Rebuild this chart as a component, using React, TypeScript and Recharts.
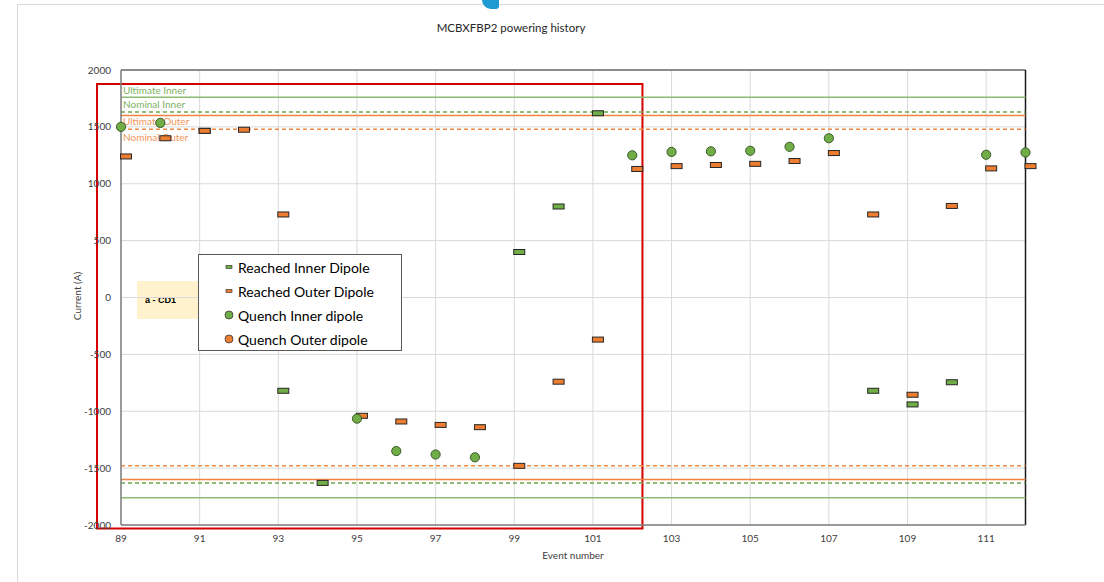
import {
  CartesianGrid,
  ComposedChart,
  Legend,
  ReferenceArea,
  ReferenceLine,
  Scatter,
  XAxis,
  YAxis,
} from 'recharts';

const FONT = 'Lato, "Liberation Sans", sans-serif';

const EVENT_TICKS = [89, 91, 93, 95, 97, 99, 101, 103, 105, 107, 109, 111];
const CURRENT_TICKS = [-2000, -1500, -1000, -500, 0, 500, 1000, 1500, 2000];

// quench currents (A)
const quenchInnerEvents = [89, 90, 95, 96, 97, 98, 102, 103, 104, 105, 106, 107, 111, 112];
const quenchInnerCurrent = [1500, 1535, -1065, -1350, -1380, -1405, 1250, 1280, 1285, 1290, 1325, 1400, 1255, 1275];
const quenchOuterEvents: number[] = [];
const quenchOuterCurrent: number[] = [];

// reached currents (A)
const reachedInnerEvents = [91, 93, 94, 99, 100, 101, 108, 109, 110];
const reachedInnerCurrent = [1465, -820, -1630, 400, 800, 1620, -820, -940, -745];
const reachedOuterEvents = [89, 90, 91, 92, 93, 95, 96, 97, 98, 99, 100, 101, 102, 103, 104, 105, 106, 107, 108, 109, 110, 111, 112];
const reachedOuterCurrent = [1240, 1400, 1465, 1475, 730, -1040, -1090, -1120, -1140, -1480, -740, -370, 1130, 1155, 1165, 1175, 1200, 1270, 730, -855, 805, 1135, 1155];

// current limits, drawn at +/- value
const limitNames = ['Ultimate Inner', 'Nominal Inner', 'Ultimate Outer', 'Nominal Outer'];
const limitCurrent = [1760, 1630, 1600, 1480];

// box around the CD1 campaign (event range, current range)
const cd1Events = [88.39, 102.26];
const cd1Current = [1877, -2031];

const GREEN = '#70AD47';
const ORANGE = '#ED7D31';
const AXIS_TEXT = '#404040';

const LIMIT_STYLE = [
  { stroke: '#8DBB74', dash: undefined, text: '#80B163', dy: -3.5 },
  { stroke: '#6AA84F', dash: '4 3', text: '#80B163', dy: -4 },
  { stroke: '#EE8344', dash: undefined, text: '#F0955A', dy: 9 },
  { stroke: '#F08A45', dash: '4 3', text: '#F0955A', dy: 11.5 },
];

const toPoints = (events: number[], currents: number[]) =>
  events.map((x, i) => ({ x, y: currents[i] }));

const quenchInner = toPoints(quenchInnerEvents, quenchInnerCurrent);
const quenchOuter = toPoints(quenchOuterEvents, quenchOuterCurrent);
const reachedInner = toPoints(reachedInnerEvents, reachedInnerCurrent);
const reachedOuter = toPoints(reachedOuterEvents, reachedOuterCurrent);

const LEGEND_ITEMS = [
  { label: 'Reached Inner Dipole', color: GREEN, kind: 'dash' },
  { label: 'Reached Outer Dipole', color: ORANGE, kind: 'dash' },
  { label: 'Quench Inner dipole', color: GREEN, kind: 'dot' },
  { label: 'Quench Outer dipole', color: ORANGE, kind: 'dot' },
];

function ReachedMark(props: any) {
  const { cx, cy, fill } = props;
  if (cx == null || cy == null) return null;
  // reached markers sit just right of the event position
  return (
    <rect
      x={cx - 0.5}
      y={cy - 2.5}
      width={11}
      height={5}
      fill={fill}
      stroke="#262626"
      strokeWidth={1}
    />
  );
}

function QuenchMark(props: any) {
  const { cx, cy, fill } = props;
  if (cx == null || cy == null) return null;
  return <circle cx={cx} cy={cy} r={4.6} fill={fill} stroke="#3A5A28" strokeWidth={1} />;
}

function LimitLabel(props: any) {
  const { viewBox, value, color, dy } = props;
  if (!viewBox) return null;
  return (
    <text x={viewBox.x + 2} y={viewBox.y + dy} fill={color} fontSize={10} fontFamily={FONT}>
      {value}
    </text>
  );
}

function LegendBox() {
  return (
    <div
      style={{
        width: 204,
        height: 97,
        boxSizing: 'border-box',
        border: '1px solid #595959',
        background: '#fff',
        fontFamily: FONT,
        fontSize: 14,
        color: '#000',
      }}
    >
      {LEGEND_ITEMS.map((item) => (
        <div key={item.label} style={{ height: 24, display: 'flex', alignItems: 'center' }}>
          <svg width={39} height={24} style={{ flex: 'none' }}>
            {item.kind === 'dash' ? (
              <rect x={27} y={10.5} width={6} height={3} fill={item.color} stroke="#222" strokeWidth={0.6} />
            ) : (
              <circle cx={30} cy={12} r={4} fill={item.color} stroke="#3a3a3a" strokeWidth={0.8} />
            )}
          </svg>
          <span style={{ whiteSpace: 'nowrap' }}>{item.label}</span>
        </div>
      ))}
    </div>
  );
}

const overlayText = {
  position: 'absolute' as const,
  fontFamily: FONT,
  fontSize: 10,
  color: AXIS_TEXT,
  whiteSpace: 'nowrap' as const,
};

const tickStyle = { fill: AXIS_TEXT, stroke: 'none', fontSize: 10, fontFamily: FONT };

export default function App() {
  return (
    <div style={{ position: 'absolute', left: 0, top: 0, width: 1104, height: 582, background: '#fff' }}>
      <div
        style={{
          position: 'absolute',
          left: 17,
          top: 4,
          right: 0,
          bottom: 0,
          borderTop: '1px solid #d9d9d9',
          borderLeft: '1px solid #d9d9d9',
        }}
      />
      <div
        style={{
          position: 'absolute',
          left: 482,
          top: 0,
          width: 17,
          height: 9,
          background: '#1E9AD2',
          borderBottomLeftRadius: 9,
          borderBottomRightRadius: 3,
        }}
      />
      <div
        style={{
          position: 'absolute',
          left: 0,
          width: 1022,
          top: 21,
          textAlign: 'center',
          fontFamily: FONT,
          fontSize: 11.5,
          color: '#262626',
        }}
      >
        MCBXFBP2 powering history
      </div>
      <div style={{ ...overlayText, left: 473, width: 200, top: 549, textAlign: 'center' }}>Event number</div>
      <div
        style={{
          ...overlayText,
          left: 27,
          top: 290,
          width: 100,
          textAlign: 'center',
          transform: 'rotate(-90deg)',
        }}
      >
        Current (A)
      </div>
      <div
        style={{
          position: 'absolute',
          left: 137,
          top: 281,
          width: 62,
          height: 38,
          background: '#FFF2CC',
          fontFamily: '"Liberation Sans", Arial, sans-serif',
          fontSize: 9,
          fontWeight: 700,
          color: '#000',
          boxSizing: 'border-box',
          paddingLeft: 8,
          lineHeight: '38px',
          whiteSpace: 'nowrap',
        }}
      >
        a - CD1
      </div>
      <ComposedChart
        width={1104}
        height={582}
        margin={{ top: 70, right: 78.5, bottom: 27, left: 71 }}
        style={{ position: 'absolute', left: 0, top: 0 }}
      >
        <CartesianGrid stroke="#D9D9D9" strokeWidth={1} />
        <XAxis
          type="number"
          dataKey="x"
          domain={[89, 112]}
          ticks={EVENT_TICKS}
          interval={0}
          height={30}
          axisLine={{ stroke: '#7F7F7F', strokeWidth: 1.5 }}
          tickLine={false}
          tickMargin={4}
          tick={tickStyle}
        />
        <YAxis
          type="number"
          dataKey="y"
          domain={[-2000, 2000]}
          ticks={CURRENT_TICKS}
          interval={0}
          width={50}
          axisLine={{ stroke: '#7F7F7F', strokeWidth: 1.5 }}
          tickLine={false}
          tickMargin={4}
          tick={tickStyle}
        />
        <ReferenceLine y={2000} stroke="#8C8C8C" strokeWidth={2} />
        <ReferenceLine x={112} stroke="#1A1A1A" strokeWidth={1.5} />
        {limitCurrent.map((value, i) => (
          <ReferenceLine
            key={`p-${limitNames[i]}`}
            y={value}
            stroke={LIMIT_STYLE[i].stroke}
            strokeWidth={1.5}
            strokeDasharray={LIMIT_STYLE[i].dash}
            label={<LimitLabel value={limitNames[i]} color={LIMIT_STYLE[i].text} dy={LIMIT_STYLE[i].dy} />}
          />
        ))}
        {limitCurrent.map((value, i) => (
          <ReferenceLine
            key={`n-${limitNames[i]}`}
            y={-value}
            stroke={LIMIT_STYLE[i].stroke}
            strokeWidth={1.5}
            strokeDasharray={LIMIT_STYLE[i].dash}
          />
        ))}
        <Scatter
          name="Reached Inner Dipole"
          data={reachedInner}
          fill={GREEN}
          shape={(p: any) => <ReachedMark {...p} fill={GREEN} />}
          isAnimationActive={false}
        />
        <Scatter
          name="Reached Outer Dipole"
          data={reachedOuter}
          fill={ORANGE}
          shape={(p: any) => <ReachedMark {...p} fill={ORANGE} />}
          isAnimationActive={false}
        />
        <Scatter
          name="Quench Inner dipole"
          data={quenchInner}
          fill={GREEN}
          shape={(p: any) => <QuenchMark {...p} fill={GREEN} />}
          isAnimationActive={false}
        />
        <Scatter
          name="Quench Outer dipole"
          data={quenchOuter}
          fill={ORANGE}
          shape={(p: any) => <QuenchMark {...p} fill={ORANGE} />}
          isAnimationActive={false}
        />
        <ReferenceArea
          x1={cd1Events[0]}
          x2={cd1Events[1]}
          y1={cd1Current[0]}
          y2={cd1Current[1]}
          ifOverflow="visible"
          fill="none"
          fillOpacity={0}
          stroke="#D40000"
          strokeWidth={2}
        />
        <Legend
          layout="vertical"
          align="center"
          verticalAlign="middle"
          wrapperStyle={{ left: 198, top: 254, width: 204, height: 97 }}
          content={() => <LegendBox />}
        />
      </ComposedChart>
    </div>
  );
}
